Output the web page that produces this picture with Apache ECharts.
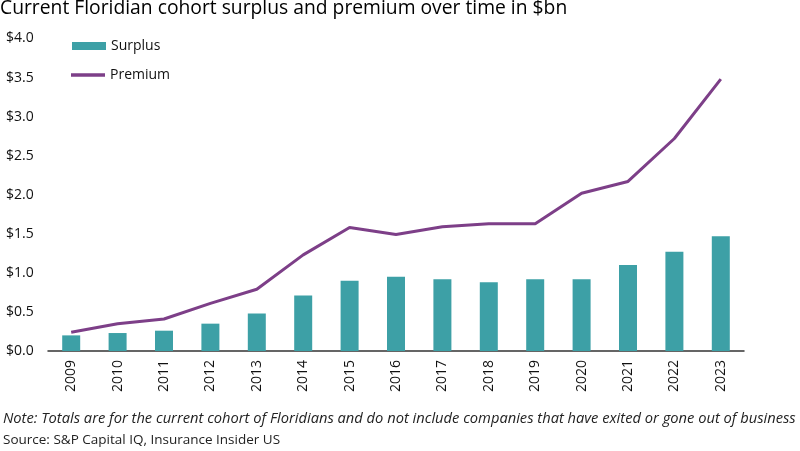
<!DOCTYPE html>
<html>
<head>
<meta charset="utf-8">
<script src="https://cdn.jsdelivr.net/npm/echarts@6/dist/echarts.min.js"></script>
<style>html,body{margin:0;padding:0;background:#fff;}#c{width:800px;height:451px;}</style>
</head>
<body>
<div id="c"></div>
<script>
var years = ['2009','2010','2011','2012','2013','2014','2015','2016','2017','2018','2019','2020','2021','2022','2023'];
var surplus = [0.20,0.23,0.26,0.35,0.48,0.71,0.90,0.95,0.92,0.88,0.92,0.92,1.10,1.27,1.47];
var premium = [0.24,0.35,0.41,0.61,0.79,1.23,1.58,1.49,1.59,1.63,1.63,2.02,2.17,2.72,3.48];
var yTicks = [0, 0.5, 1.0, 1.5, 2.0, 2.5, 3.0, 3.5, 4.0];

var FONT = '"Open Sans", "Noto Sans", sans-serif';
var chart = echarts.init(document.getElementById('c'));
chart.setOption({
  animation: false,
  textStyle: {fontFamily: FONT},
  title: [
    {text: 'Current Floridian cohort surplus and premium over time in $bn', left: 0, top: -1, padding: 0,
     textStyle: {fontFamily: FONT, fontSize: 19.3, fontWeight: 'normal', color: '#000'}},
    {text: 'Note: Totals are for the current cohort of Floridians and do not include companies that have exited or gone out of business',
     left: 3, top: 411, padding: 0, textStyle: {fontFamily: FONT, fontSize: 14.7, fontStyle: 'italic', fontWeight: 'normal', color: '#222'}},
    {text: 'Source: S&P Capital IQ, Insurance Insider US', left: 3, top: 433, padding: 0,
     textStyle: {fontFamily: FONT, fontSize: 13.5, fontWeight: 'normal', color: '#222'}}
  ],
  legend: [
    {data: ['Surplus'], orient: 'vertical', left: 72, top: 39, padding: 0, itemWidth: 34, itemHeight: 8, icon: 'rect',
     textStyle: {fontFamily: FONT, fontSize: 14, color: '#111'}},
    {data: [{name: 'Premium', icon: 'rect'}], orient: 'vertical', left: 71, top: 68, padding: 0, itemWidth: 34, itemHeight: 3.5,
     textStyle: {fontFamily: FONT, fontSize: 14, color: '#111'}}
  ],
  grid: {left: 48, right: 56, top: 38.5, bottom: 100},
  xAxis: {
    type: 'category', data: years,
    axisLine: {lineStyle: {color: '#333', width: 1.5}},
    axisTick: {show: false},
    axisLabel: {rotate: 90, fontFamily: FONT, fontSize: 14, color: '#111', margin: 9}
  },
  yAxis: {
    type: 'value', min: 0, max: 4, interval: 0.5,
    splitLine: {show: false},
    axisLine: {show: false}, axisTick: {show: false},
    axisLabel: {align: 'left', margin: 42, fontFamily: FONT, fontSize: 14, color: '#111',
      formatter: function (v) { return '$' + v.toFixed(1); }}
  },
  series: [
    {name: 'Surplus', type: 'bar', data: surplus, barWidth: 18,
     itemStyle: {color: '#3DA0A6'}},
    {name: 'Premium', type: 'line', data: premium, symbol: 'none',
     lineStyle: {color: '#7D3F88', width: 3}, itemStyle: {color: '#7D3F88'}}
  ]
});
</script>
</body>
</html>
